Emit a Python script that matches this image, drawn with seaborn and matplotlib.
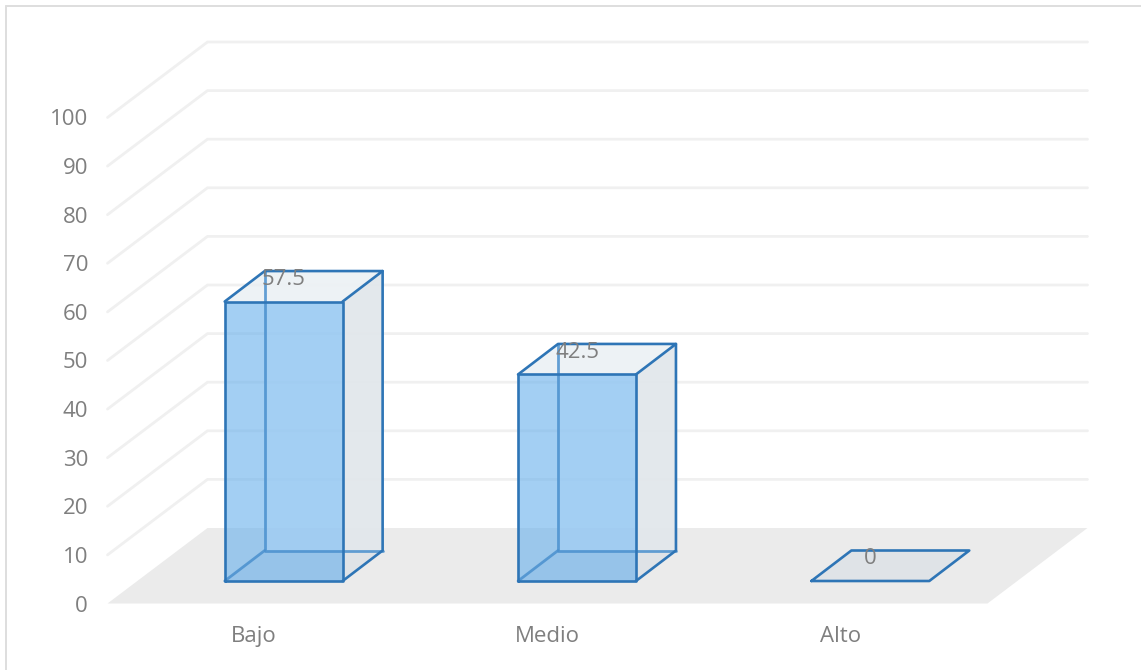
import matplotlib
matplotlib.use('Agg')
import matplotlib.pyplot as plt
import pandas as pd
import seaborn as sns
from matplotlib.patches import Polygon, Rectangle

categories = ['Bajo', 'Medio', 'Alto']
values = [57.5, 42.5, 0]
value_labels = ['57.5', '42.5', '0']
y_ticks = [0, 10, 20, 30, 40, 50, 60, 70, 80, 90, 100]

W, H = 1141, 670
# front plane of the chart box, in pixels
LEFT, RIGHT, BOTTOM, TOP = 107.5, 987.5, 603.5, 117.5
BLUE = '#2E75B6'
GRID = '#F0F0F0'
TEXT = '#7F7F7F'

sns.set_theme(style='white')
plt.rcParams['font.family'] = ['Open Sans', 'DejaVu Sans']

fig = plt.figure(figsize=(W / 100, H / 100), dpi=100)
ax = fig.add_axes([LEFT / W, 1 - BOTTOM / H, (RIGHT - LEFT) / W, (BOTTOM - TOP) / H])

df = pd.DataFrame({'nivel': categories, 'valor': values})
sns.barplot(data=df, x='nivel', y='valor', color='#5B9BD5', width=0.402,
            saturation=1, ax=ax, zorder=5)
ax.set_xlim(-0.5, 2.5)
ax.set_ylim(0, 100)

# pixel sizes turned into data units
px_x = 3 / (RIGHT - LEFT)
px_y = 100 / (BOTTOM - TOP)
wall_dx, wall_dy = 100 * px_x, 75.5 * px_y   # depth of the whole box
bar_dx, bar_dy = 40 * px_x, 30.5 * px_y      # depth of a bar
lift_x, lift_y = 29.5 * px_x, 22.5 * px_y    # bar offset from front edge of floor

# walls and floor
ax.add_patch(Polygon([(-0.5, 0), (2.5, 0), (2.5 + wall_dx, wall_dy), (-0.5 + wall_dx, wall_dy)],
                     closed=True, fc='#EBEBEB', ec='none', clip_on=False, zorder=1))
for t in y_ticks[1:]:
    ax.plot([-0.5, -0.5 + wall_dx, 2.5 + wall_dx], [t, t + wall_dy, t + wall_dy],
            color=GRID, lw=2, clip_on=False, zorder=2, solid_joinstyle='miter')

# turn the flat bars from seaborn into boxes
for patch, label, v in zip(ax.patches[:3], value_labels, values):
    x0 = patch.get_x() + lift_x
    x1 = x0 + patch.get_width()
    y0, y1 = lift_y, lift_y + patch.get_height()
    patch.remove()
    back_x0, back_x1, back_y0, back_y1 = x0 + bar_dx, x1 + bar_dx, y0 + bar_dy, y1 + bar_dy

    if v > 0:
        # back, side and top faces
        ax.add_patch(Rectangle((back_x0, back_y0), x1 - x0, y1 - y0, fc='white', ec='none',
                               alpha=0.7, zorder=3))
        ax.add_patch(Polygon([(x1, y0), (back_x1, back_y0), (back_x1, back_y1), (x1, y1)],
                             closed=True, fc='#DDE3E8', ec='none', alpha=0.8, zorder=3))
        ax.add_patch(Polygon([(x0, y1), (x1, y1), (back_x1, back_y1), (back_x0, back_y1)],
                             closed=True, fc='#E8EEF2', ec='none', alpha=0.75, zorder=3))
    ax.add_patch(Polygon([(x0, y0), (x1, y0), (back_x1, back_y0), (back_x0, back_y0)],
                         closed=True, fc='#DFE3E7', ec='none', zorder=3))
    if v > 0:
        ax.add_patch(Rectangle((x0, y0), x1 - x0, y1 - y0, fc='#66AFEC', ec='none',
                               alpha=0.6, zorder=4))
        # hidden edges
        ax.plot([back_x0, back_x0, back_x1], [back_y1, back_y0, back_y0], color='#4A90CE', lw=2,
                alpha=0.85, zorder=5)
        ax.plot([x0, back_x0], [y0, back_y0], color='#4A90CE', lw=2, alpha=0.85, zorder=5)
        # visible edges
        ax.plot([x0, x1, x1, x0, x0], [y0, y0, y1, y1, y0], color=BLUE, lw=1.9, zorder=6)
        ax.plot([x0, back_x0, back_x1, x1], [y1, back_y1, back_y1, y1], color=BLUE, lw=1.9, zorder=6)
        ax.plot([x1, back_x1, back_x1], [y0, back_y0, back_y1], color=BLUE, lw=1.9, zorder=6)
    else:
        ax.plot([x0, x1, back_x1, back_x0, x0], [y0, y0, back_y0, back_y0, y0],
                color=BLUE, lw=1.9, zorder=6)
    ax.text((x0 + x1) / 2, y1 + 4.6, label, ha='center', va='center', fontsize=16,
            color=TEXT, zorder=7)

ax.set_xlabel('')
ax.set_ylabel('')
ax.set_yticks(y_ticks)
ax.set_xticks(range(3))
ax.set_xticklabels(categories)
ax.tick_params(axis='y', length=0, pad=14, labelsize=16, labelcolor=TEXT)
ax.tick_params(axis='x', length=0, pad=16, labelsize=16, labelcolor=TEXT)
sns.despine(ax=ax, left=True, bottom=True)
ax.patch.set_alpha(0)

# thin frame of the pasted picture
fig.add_artist(plt.Line2D([5.5 / W, 1], [1 - 5.5 / H, 1 - 5.5 / H], color='#DEDEDE', lw=1.4))
fig.add_artist(plt.Line2D([5.5 / W, 5.5 / W], [0, 1 - 5.5 / H], color='#DEDEDE', lw=1.4))

fig.savefig('out.png', dpi=100, facecolor='white')
